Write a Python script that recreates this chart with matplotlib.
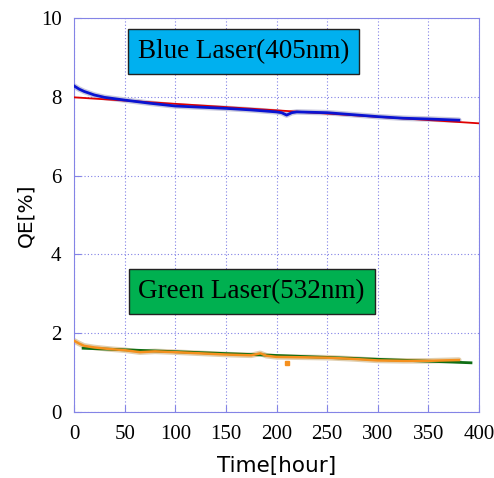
import matplotlib
matplotlib.use("Agg")
import matplotlib.pyplot as plt

# blue laser (405nm) measurement
blue_t = [0, 5, 10, 20, 30, 50, 75, 100, 125, 150, 175, 200, 205, 210, 215, 220, 250, 275, 300, 325, 350, 380]
blue_qe = [8.28, 8.2, 8.14, 8.05, 7.99, 7.92, 7.84, 7.77, 7.74, 7.71, 7.67, 7.62, 7.6, 7.54, 7.6, 7.62, 7.6, 7.55, 7.5, 7.46, 7.44, 7.41]
# linear fit (red)
blue_fit_t = [0, 400]
blue_fit_qe = [7.99, 7.33]

# green laser (532nm) measurement
green_t = [0, 5, 10, 20, 35, 50, 65, 80, 100, 125, 150, 175, 184, 190, 200, 225, 250, 275, 300, 325, 350, 365, 380]
green_qe = [1.81, 1.74, 1.68, 1.64, 1.6, 1.57, 1.52, 1.54, 1.52, 1.49, 1.46, 1.44, 1.49, 1.43, 1.4, 1.39, 1.38, 1.35, 1.31, 1.3, 1.3, 1.31, 1.32]
outlier_t = [210]
outlier_qe = [1.25]
# linear fit (dark green)
green_fit_t = [9, 392]
green_fit_qe = [1.62, 1.25]

fig = plt.figure(figsize=(4.94, 4.78), dpi=100)
ax = fig.add_axes([0.1498, 0.138, 0.820, 0.824])

spine_c = "#8484e6"
ax.plot(blue_t, blue_qe, color="#c8c8dc", lw=4, solid_capstyle="round", zorder=2)
ax.plot(blue_fit_t, blue_fit_qe, color="#e00000", lw=1.3, zorder=3)
ax.plot(blue_t, blue_qe, color="#0a14d2", lw=2, zorder=4)

ax.plot(green_t, green_qe, color="#e0cfb0", lw=4, solid_capstyle="round", zorder=2)
ax.plot(green_fit_t, green_fit_qe, color="#0f6e14", lw=2, zorder=3)
ax.plot(green_t, green_qe, color="#f5901e", lw=1.8, zorder=4)
ax.plot(outlier_t, outlier_qe, "s", color="#f5901e", ms=2.5, zorder=4)

ax.set_xlim(0, 400)
ax.set_ylim(0, 10)
ax.set_xticks(range(0, 401, 50))
ax.set_yticks(range(0, 11, 2))
ax.grid(True, linestyle=(0, (1, 2)), color="#8080e6", lw=0.8)
for s in ax.spines.values():
    s.set_color(spine_c)
ax.tick_params(direction="in", color=spine_c, length=5, labelsize=15, pad=9)
for lab in ax.get_xticklabels() + ax.get_yticklabels():
    lab.set_family("Liberation Serif")

ax.set_xlabel("Time[hour]", fontsize=15.5, family="DejaVu Sans", labelpad=9)
ax.set_ylabel("QE[%]", fontsize=14.5, family="DejaVu Sans", labelpad=4)

ax.text(167.4, 9.15, "Blue Laser(405nm)", fontsize=19.5, family="Liberation Serif",
        va="center", ha="center",
        bbox=dict(boxstyle="square,pad=0.36", fc="#00b0ef", ec="#222222", lw=1))
ax.text(175.3, 3.06, "Green Laser(532nm)", fontsize=19.5, family="Liberation Serif",
        va="center", ha="center",
        bbox=dict(boxstyle="square,pad=0.36", fc="#00b050", ec="#222222", lw=1))

fig.savefig("out.png", dpi=100)
